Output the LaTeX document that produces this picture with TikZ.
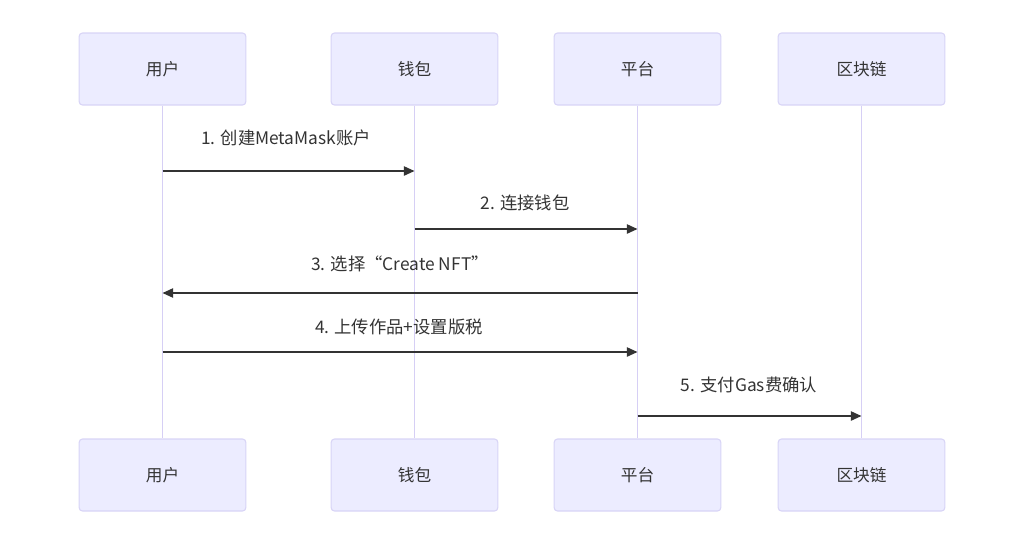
\documentclass[tikz,border=0pt]{standalone}
\usepackage{fontspec}
\setmainfont{Noto Sans CJK SC}
\usetikzlibrary{arrows.meta}
\definecolor{actorfill}{HTML}{ECECFF}
\definecolor{actorline}{HTML}{D8D4F6}
\definecolor{lifeline}{HTML}{D6CFF5}
\definecolor{msgline}{HTML}{333333}

\tikzset{
  actor/.style={draw=actorline,fill=actorfill,rounded corners=2.5pt,line width=0.8pt,
    minimum width=125pt,minimum height=54pt,text=msgline,font=\fontsize{12.5}{14}\selectfont},
  life/.style={draw=lifeline,line width=1pt},
  msg/.style={draw=msgline,line width=1.1pt,-{Triangle[length=8pt,width=7pt]}},
  msglabel/.style={text=msgline,font=\fontsize{13}{15}\selectfont}
}

\begin{document}
\begin{tikzpicture}[x=0.75pt,y=-0.75pt]
  \useasboundingbox (0,0) rectangle (1024,547);

  % actors, top and bottom
  \node[actor] (u1) at (162.5,69) {用户};
  \node[actor] (w1) at (414.5,69) {钱包};
  \node[actor] (p1) at (637.5,69) {平台};
  \node[actor] (c1) at (861.5,69) {区块链};
  \node[actor] (u2) at (162.5,475) {用户};
  \node[actor] (w2) at (414.5,475) {钱包};
  \node[actor] (p2) at (637.5,475) {平台};
  \node[actor] (c2) at (861.5,475) {区块链};

  % lifelines
  \draw[life] (u1) -- (u2);
  \draw[life] (w1) -- (w2);
  \draw[life] (p1) -- (p2);
  \draw[life] (c1) -- (c2);

  % message ends on the lifelines
  \coordinate (m1a) at (u1 |- 0,171);
  \coordinate (m1b) at (w1 |- 0,171);
  \coordinate (m2a) at (w1 |- 0,229);
  \coordinate (m2b) at (p1 |- 0,229);
  \coordinate (m3a) at (p1 |- 0,293);
  \coordinate (m3b) at (u1 |- 0,293);
  \coordinate (m4a) at (u1 |- 0,352);
  \coordinate (m4b) at (p1 |- 0,352);
  \coordinate (m5a) at (p1 |- 0,416);
  \coordinate (m5b) at (c1 |- 0,416);

  % messages
  \draw[msg] (m1a) -- (m1b);
  \node[msglabel] (l1) at (286,138) {1. 创建MetaMask账户};
  \draw[msg] (m2a) -- (m2b);
  \node[msglabel] (l2) at (525,203) {2. 连接钱包};
  \draw[msg] (m3a) -- (m3b);
  \node[msglabel] (l3) at (400,264) {3. 选择“Create NFT”};
  \draw[msg] (m4a) -- (m4b);
  \node[msglabel] (l4) at (399,327) {4. 上传作品+设置版税};
  \draw[msg] (m5a) -- (m5b);
  \node[msglabel] (l5) at (749,385) {5. 支付Gas费确认};
\end{tikzpicture}
\end{document}
